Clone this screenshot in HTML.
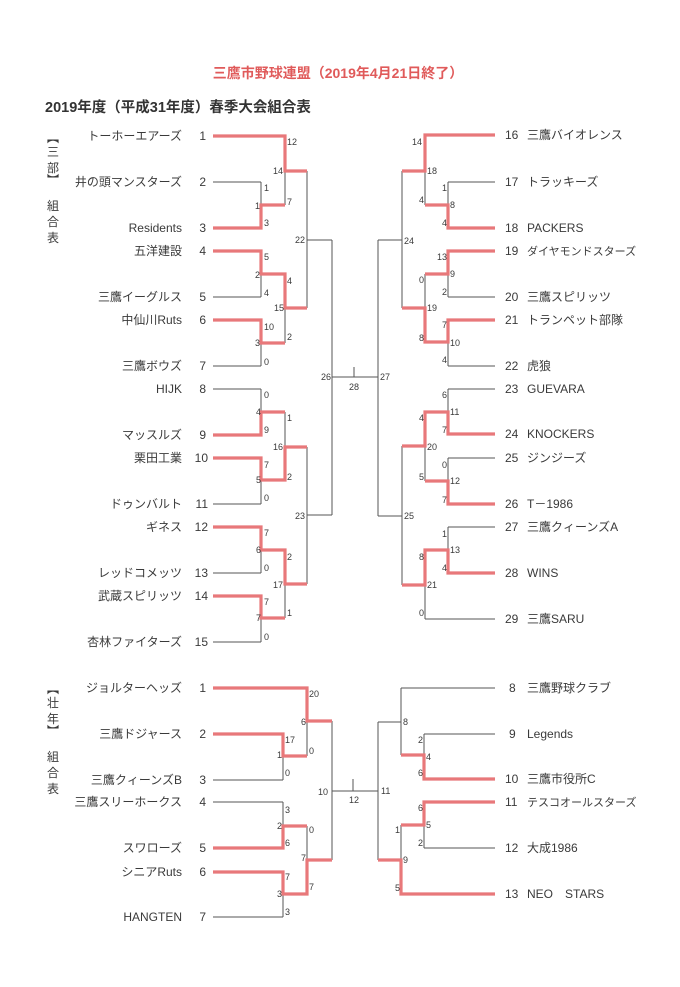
<!DOCTYPE html>
<html><head><meta charset="utf-8"><style>
html,body{margin:0;padding:0;background:#fff;}
svg{display:block;}
text{font-family:"Liberation Sans","Noto Sans CJK JP",sans-serif;fill:#3a3a3a;}
.n{font-size:12px;}
.s{font-size:9px;fill:#555;}
.g{stroke:#555;stroke-width:1;fill:none;}
.r{stroke:#e8787a;stroke-width:3.2;fill:none;stroke-linejoin:miter;}
</style></head><body>
<svg width="680" height="987" viewBox="0 0 680 987" xmlns="http://www.w3.org/2000/svg">
<text x="338" y="78" text-anchor="middle" style="font-size:14px;fill:#e05a5a;font-weight:bold">三鷹市野球連盟（2019年4月21日終了）</text>
<text x="45" y="112" style="font-size:14.5px;font-weight:bold;fill:#333">2019年度（平成31年度）春季大会組合表</text>

<g style="font-size:12px">
<text x="47" y="142" style="font-family:'Noto Sans CJK JP',sans-serif">︻</text>
<text x="47" y="156">三</text><text x="47" y="172">部</text>
<text x="47" y="184" style="font-family:'Noto Sans CJK JP',sans-serif">︼</text>
<text x="47" y="210">組</text><text x="47" y="226">合</text><text x="47" y="242">表</text>
<text x="47" y="693" style="font-family:'Noto Sans CJK JP',sans-serif">︻</text>
<text x="47" y="707">壮</text><text x="47" y="723">年</text>
<text x="47" y="735" style="font-family:'Noto Sans CJK JP',sans-serif">︼</text>
<text x="47" y="761">組</text><text x="47" y="777">合</text><text x="47" y="793">表</text>
</g>

<!-- left names -->
<g class="n" text-anchor="end">
<text x="182" y="140">トーホーエアーズ</text><text x="206" y="140">1</text>
<text x="182" y="186">井の頭マンスターズ</text><text x="206" y="186">2</text>
<text x="182" y="232">Residents</text><text x="206" y="232">3</text>
<text x="182" y="255">五洋建設</text><text x="206" y="255">4</text>
<text x="182" y="301">三鷹イーグルス</text><text x="206" y="301">5</text>
<text x="182" y="324">中仙川Ruts</text><text x="206" y="324">6</text>
<text x="182" y="370">三鷹ボウズ</text><text x="206" y="370">7</text>
<text x="182" y="393">HIJK</text><text x="206" y="393">8</text>
<text x="182" y="439">マッスルズ</text><text x="206" y="439">9</text>
<text x="182" y="462">栗田工業</text><text x="208" y="462">10</text>
<text x="182" y="508">ドゥンバルト</text><text x="208" y="508">11</text>
<text x="182" y="531">ギネス</text><text x="208" y="531">12</text>
<text x="182" y="577">レッドコメッツ</text><text x="208" y="577">13</text>
<text x="182" y="600">武蔵スピリッツ</text><text x="208" y="600">14</text>
<text x="182" y="646">杏林ファイターズ</text><text x="208" y="646">15</text>
<text x="182" y="692">ジョルターヘッズ</text><text x="206" y="692">1</text>
<text x="182" y="738">三鷹ドジャース</text><text x="206" y="738">2</text>
<text x="182" y="784">三鷹クィーンズB</text><text x="206" y="784">3</text>
<text x="182" y="806">三鷹スリーホークス</text><text x="206" y="806">4</text>
<text x="182" y="852">スワローズ</text><text x="206" y="852">5</text>
<text x="182" y="876">シニアRuts</text><text x="206" y="876">6</text>
<text x="182" y="921">HANGTEN</text><text x="206" y="921">7</text>
</g>
<!-- right names -->
<g class="n">
<text x="505" y="139">16</text><text x="527" y="139">三鷹バイオレンス</text>
<text x="505" y="186">17</text><text x="527" y="186">トラッキーズ</text>
<text x="505" y="232">18</text><text x="527" y="232">PACKERS</text>
<text x="505" y="255">19</text><text x="527" y="255" style="font-size:11px">ダイヤモンドスターズ</text>
<text x="505" y="301">20</text><text x="527" y="301">三鷹スピリッツ</text>
<text x="505" y="324">21</text><text x="527" y="324">トランペット部隊</text>
<text x="505" y="370">22</text><text x="527" y="370">虎狼</text>
<text x="505" y="393">23</text><text x="527" y="393">GUEVARA</text>
<text x="505" y="438">24</text><text x="527" y="438">KNOCKERS</text>
<text x="505" y="462">25</text><text x="527" y="462">ジンジーズ</text>
<text x="505" y="508">26</text><text x="527" y="508">T－1986</text>
<text x="505" y="531">27</text><text x="527" y="531">三鷹クィーンズA</text>
<text x="505" y="577">28</text><text x="527" y="577">WINS</text>
<text x="505" y="623">29</text><text x="527" y="623">三鷹SARU</text>
<text x="509" y="692">8</text><text x="527" y="692">三鷹野球クラブ</text>
<text x="509" y="738">9</text><text x="527" y="738">Legends</text>
<text x="505" y="783">10</text><text x="527" y="783">三鷹市役所C</text>
<text x="505" y="806">11</text><text x="527" y="806" style="font-size:11px">テスコオールスターズ</text>
<text x="505" y="852">12</text><text x="527" y="852">大成1986</text>
<text x="505" y="898">13</text><text x="527" y="898">NEO　STARS</text>
</g>

<path class="g" d="
M213 136H285 M213 182H261 M213 228H261 M213 251H261 M213 297H261 M213 320H261 M213 366H261 M213 389H261 M213 435H261 M213 458H261 M213 504H261 M213 527H261 M213 573H261 M213 596H261 M213 642H261
M261 182V228 M261 251V297 M261 320V366 M261 389V435 M261 458V504 M261 527V573 M261 596V642
M261 205H285 M261 274H285 M261 343H285 M261 412H285 M261 480H285 M261 550H285 M261 618H285
M285 136V205 M285 274V343 M285 412V480 M285 550V618
M285 171H307 M285 308H307 M285 447H307 M285 584H307
M307 171V308 M307 447V584 M307 240H332 M307 515H332 M332 240V515 M332 377H378 M354 367V377
M495 135H425 M495 182H448 M495 228H448 M495 251H448 M495 297H448 M495 320H448 M495 366H448 M495 389H448 M495 434H448 M495 458H448 M495 504H448 M495 527H448 M495 573H448 M495 619H425
M448 182V228 M448 251V297 M448 320V366 M448 389V434 M448 458V504 M448 527V573
M448 205H425 M448 274H425 M448 342H425 M448 412H425 M448 481H425 M448 550H425
M425 135V205 M425 274V342 M425 412V481 M425 550V619
M425 171H402 M425 308H402 M425 446H402 M425 585H402
M402 171V308 M402 446V585 M402 240H378 M402 516H378 M378 240V516
M213 688H307 M213 734H283 M213 780H283 M213 802H283 M213 848H283 M213 872H283 M213 917H283
M283 734V780 M283 802V848 M283 872V917 M283 756H307 M283 826H307 M283 894H307
M307 688V756 M307 826V894 M307 721H332 M307 860H332 M332 721V860 M332 791H378 M353 779V791
M495 688H401 M495 734H424 M495 779H424 M495 802H424 M495 848H424 M495 894H401
M424 734V779 M424 802V848 M424 755H401 M424 825H401 M401 688V755 M401 825V894
M401 722H378 M401 860H378 M378 722V860"/>

<g class="r">
<polyline points="213,136 285,136 285,171 307,171"/>
<polyline points="213,228 261,228 261,205 285,205"/>
<polyline points="213,251 261,251 261,274 285,274 285,308 307,308"/>
<polyline points="213,320 261,320 261,343 285,343"/>
<polyline points="213,435 261,435 261,412 285,412"/>
<polyline points="213,458 261,458 261,480 285,480 285,447 307,447"/>
<polyline points="213,527 261,527 261,550 285,550 285,584 307,584"/>
<polyline points="213,596 261,596 261,618 285,618"/>
<polyline points="495,135 425,135 425,171 402,171"/>
<polyline points="495,228 448,228 448,205 425,205"/>
<polyline points="495,251 448,251 448,274 425,274"/>
<polyline points="495,320 448,320 448,342 425,342 425,308 402,308"/>
<polyline points="495,434 448,434 448,412 425,412 425,446 402,446"/>
<polyline points="495,504 448,504 448,481 425,481"/>
<polyline points="495,573 448,573 448,550 425,550 425,585 402,585"/>
<polyline points="213,688 307,688 307,721 332,721"/>
<polyline points="213,734 283,734 283,756 307,756"/>
<polyline points="213,848 283,848 283,826 307,826"/>
<polyline points="213,872 283,872 283,894 307,894 307,860 332,860"/>
<polyline points="495,779 424,779 424,755 401,755"/>
<polyline points="495,802 424,802 424,825 401,825"/>
<polyline points="495,894 401,894 401,860 378,860"/>
</g>

<g class="s">
<text x="287" y="145">12</text><text x="273" y="174">14</text><text x="264" y="191">1</text><text x="287" y="205">7</text><text x="255" y="209">1</text><text x="264" y="226">3</text><text x="295" y="243">22</text>
<text x="264" y="260">5</text><text x="255" y="278">2</text><text x="287" y="284">4</text><text x="264" y="296">4</text><text x="274" y="311">15</text><text x="264" y="330">10</text><text x="255" y="346">3</text><text x="287" y="340">2</text><text x="264" y="365">0</text><text x="321" y="380">26</text>
<text x="264" y="398">0</text><text x="256" y="415">4</text><text x="287" y="421">1</text><text x="264" y="433">9</text><text x="273" y="450">16</text><text x="264" y="468">7</text><text x="287" y="480">2</text><text x="256" y="483">5</text><text x="264" y="501">0</text><text x="295" y="519">23</text>
<text x="264" y="536">7</text><text x="256" y="553">6</text><text x="287" y="560">2</text><text x="264" y="571">0</text><text x="273" y="588">17</text><text x="264" y="605">7</text><text x="256" y="621">7</text><text x="287" y="616">1</text><text x="264" y="640">0</text>
<text x="349" y="390">28</text><text x="380" y="380">27</text>
<text x="412" y="145">14</text><text x="427" y="174">18</text><text x="442" y="191">1</text><text x="419" y="203">4</text><text x="450" y="208">8</text><text x="442" y="226">4</text><text x="404" y="244">24</text>
<text x="437" y="260">13</text><text x="450" y="277">9</text><text x="419" y="283">0</text><text x="442" y="295">2</text><text x="427" y="311">19</text><text x="442" y="328">7</text><text x="419" y="341">8</text><text x="450" y="346">10</text><text x="442" y="363">4</text>
<text x="442" y="398">6</text><text x="450" y="415">11</text><text x="419" y="421">4</text><text x="442" y="433">7</text><text x="427" y="450">20</text><text x="442" y="468">0</text><text x="419" y="480">5</text><text x="450" y="484">12</text><text x="442" y="503">7</text><text x="404" y="519">25</text>
<text x="442" y="537">1</text><text x="450" y="553">13</text><text x="419" y="560">8</text><text x="442" y="571">4</text><text x="427" y="588">21</text><text x="419" y="616">0</text>
<text x="309" y="697">20</text><text x="301" y="725">6</text><text x="285" y="743">17</text><text x="309" y="754">0</text><text x="277" y="758">1</text><text x="285" y="776">0</text><text x="318" y="795">10</text>
<text x="285" y="813">3</text><text x="277" y="829">2</text><text x="309" y="833">0</text><text x="285" y="846">6</text><text x="301" y="861">7</text><text x="285" y="880">7</text><text x="309" y="890">7</text><text x="277" y="897">3</text><text x="285" y="915">3</text>
<text x="349" y="803">12</text><text x="381" y="794">11</text>
<text x="403" y="725">8</text><text x="418" y="743">2</text><text x="426" y="760">4</text><text x="418" y="776">6</text><text x="418" y="811">6</text><text x="426" y="828">5</text><text x="395" y="833">1</text><text x="418" y="846">2</text><text x="403" y="863">9</text><text x="395" y="891">5</text>
</g>
</svg>
</body></html>
